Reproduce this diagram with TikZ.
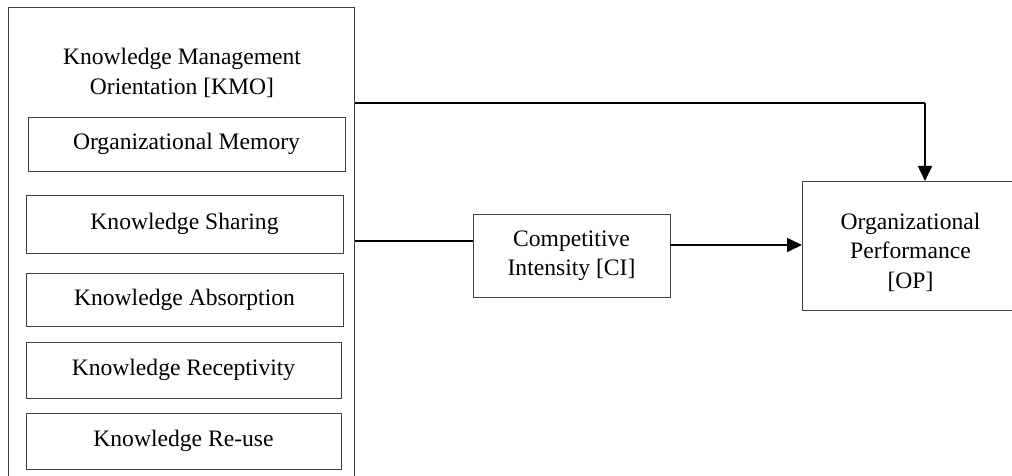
\documentclass[tikz,border=0pt]{standalone}
\usepackage{fontspec}
\setmainfont{Liberation Serif}
\usetikzlibrary{arrows.meta}
\begin{document}
\begin{tikzpicture}[x=1pt,y=-1pt,
  box/.style={draw=black!75, line width=0.9pt, rectangle, inner sep=0pt, align=center,
    font=\fontsize{23.6}{29.5}\selectfont},
  txt/.style={inner sep=0pt, align=center, font=\fontsize{23.6}{29.5}\selectfont},
  conn/.style={draw=black, line width=1.6pt},
  arr/.style={conn, -{Triangle[length=15pt,width=14pt]}}]
\useasboundingbox (0,0) rectangle (1012,476);
% outer KMO box (bottom clipped)
\node[box, minimum width=346pt, minimum height=490pt, anchor=north west] (kmo) at (8,7) {};
\node[txt] (kmot) at (182,73) {Knowledge Management\\Orientation [KMO]};
% inner boxes
\node[box, minimum width=317pt, minimum height=54pt] (om) at (186.5,144) {Organizational Memory};
\node[box, minimum width=317pt, minimum height=58pt] (ks) at (184.5,224) {Knowledge Sharing};
\node[box, minimum width=317pt, minimum height=53pt] (ka) at (184.5,299.5) {Knowledge Absorption};
\node[box, minimum width=315pt, minimum height=56pt] (kr) at (183.5,370) {Knowledge Receptivity};
\node[box, minimum width=315pt, minimum height=56pt] (kru) at (183.5,441) {Knowledge Re-use};
% CI box
\node[box, minimum width=197pt, minimum height=83pt] (ci) at (571.5,255.5) {Competitive\\Intensity [CI]};
% OP box (right side clipped)
\node[box, minimum width=215pt, minimum height=129pt, anchor=north west] (op) at (802,181) {};
\node[txt] (opt) at (910.5,252) {Organizational\\Performance\\{}[OP]};
% connectors
\coordinate (turn) at (925,103);
\draw[conn] (kmo.east |- turn) -- (turn);
\draw[arr] (turn) -- (turn |- op.north);
\draw[conn] (kmo.east |- 0,241) -- (ci.west |- 0,241);
\draw[arr] (ci.east |- 0,245) -- (op.west |- 0,245);
\end{tikzpicture}
\end{document}
